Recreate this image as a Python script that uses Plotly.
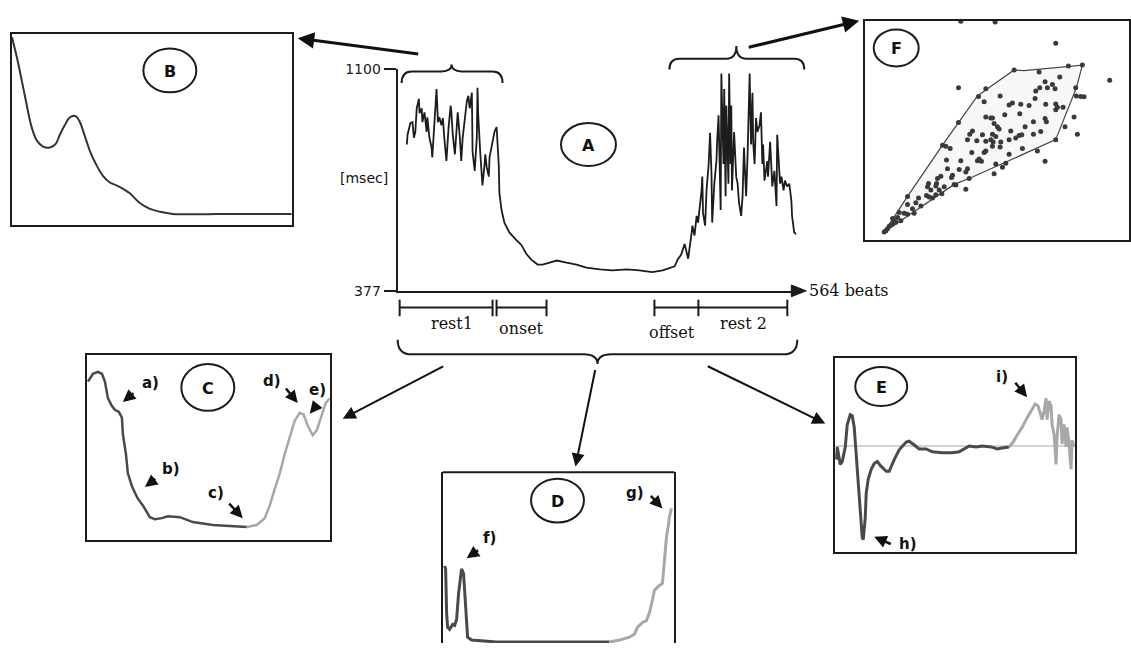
import plotly.graph_objects as go

W, H = 1131, 651

# ---------------- DATA ----------------
# Panel A: RR interval series (beat index, msec)
a_beats = [13, 14, 18, 21, 23, 25, 27, 30, 31, 34, 35, 38, 41, 42, 45, 48, 49, 52, 55, 57,
           59, 62, 64, 66, 69, 72, 75, 76, 78, 81, 83, 85, 88, 90, 92, 95, 98, 100, 102, 105,
           106, 109, 112, 113, 114, 117, 119, 120, 123, 124, 126, 129, 130, 133, 134, 137, 140, 141, 143, 144,
           147, 151, 158, 168, 175, 182, 189, 198, 205, 215, 225, 239, 253, 267, 286, 304, 324, 342, 360, 375,
           384, 392, 396, 401, 406, 408, 411, 416, 417, 420, 423, 425, 430, 431, 432, 435, 437, 440, 442, 444,
           445, 448, 451, 452, 454, 457, 458, 459, 461, 462, 464, 465, 468, 469, 471, 472, 473, 476, 479, 481,
           483, 486, 488, 490, 493, 495, 498, 500, 502, 503, 505, 507, 509, 512, 514, 516, 517, 519, 522, 523,
           524, 527, 529, 530, 533, 536, 537, 539, 541, 543, 546, 548, 551, 554, 557, 558, 561, 564]
a_msec = [855, 887, 925, 928, 877, 896, 973, 1004, 957, 973, 928, 960, 896, 944, 877, 845, 813, 928, 1036, 928,
          944, 918, 941, 877, 801, 909, 982, 960, 887, 823, 887, 960, 877, 801, 877, 950, 998, 1014, 973, 1024,
          832, 769, 877, 1040, 950, 823, 737, 721, 791, 823, 781, 750, 813, 855, 864, 896, 912, 877, 791, 695,
          641, 600, 568, 543, 527, 498, 479, 463, 463, 469, 476, 469, 463, 453, 447, 444, 447, 444, 438, 444,
          450, 457, 479, 495, 530, 514, 482, 568, 590, 558, 622, 600, 705, 750, 632, 590, 705, 791, 893, 759,
          600, 727, 801, 864, 950, 641, 1087, 982, 791, 1036, 686, 982, 727, 1087, 791, 982, 705, 896, 750, 727,
          664, 622, 686, 845, 686, 813, 1087, 855, 1024, 864, 791, 941, 896, 918, 960, 791, 855, 737, 791, 801,
          750, 864, 769, 718, 769, 654, 887, 813, 727, 750, 705, 737, 718, 727, 673, 622, 568, 562]
a_ticks = [377, 1100]
a_tick_labels = ["377", "1100"]

# Panel B: spectrum-like curve (arbitrary units 0-100)
b_x = [0, 2.1, 4.6, 7.1, 8.9, 11.1, 13.6, 15.7, 17.1, 18.9, 20.7, 22.9, 24.3, 26.1, 27.9, 30,
       32.5, 35, 37.5, 40, 42.1, 45.7, 49.3, 52.9, 57.5, 67.1, 78.9, 100]
b_y = [98.5, 85.6, 67.7, 50.8, 44.1, 41, 40.5, 42.6, 47.2, 52.3, 56.4, 56.9, 53.8, 46.2, 38.5, 31.8,
       25.6, 22.1, 20.5, 18.5, 16.4, 11.3, 8.2, 6.7, 5.6, 5.4, 5.6, 5.6]

# Panel F: Poincare scatter (arbitrary units)
f_x = [468, 365, 650, 812, 358, 618, 715, 380,
       525, 600, 688, 730, 662, 618, 640, 602, 625, 648, 590, 588, 440, 418, 435, 483, 710, 712, 725, 735,
       520, 510, 545, 570, 620, 650, 655, 650, 672, 497, 440, 460, 542, 583, 618, 622, 705, 678, 358, 400,
       392, 475, 480, 460, 470, 455, 430, 515, 548, 558, 540, 605, 583, 385, 413, 440, 462, 485, 510, 530,
       440, 435, 460, 483, 550, 595, 650, 310, 320, 333, 322, 398, 365, 420, 427, 415, 510, 470, 500, 490,
       465, 325, 360, 385, 380, 340, 337, 345, 390, 305, 295, 268, 292, 265, 290, 315, 275, 300, 308, 290,
       262, 270, 280, 230, 245, 205, 205, 220, 180, 195, 205, 175, 165, 170, 185, 160, 150, 145, 135, 140,
       155, 160, 238, 225, 350, 455, 465]
f_y = [673, 675, 607, 493, 470, 243, 327, 157,
       525, 519, 537, 540, 503, 489, 480, 470, 470, 467, 460, 437, 467, 443, 427, 445, 470, 445, 443, 442,
       423, 417, 419, 415, 419, 420, 410, 402, 410, 387, 380, 377, 390, 365, 375, 365, 380, 350, 363, 337,
       327, 350, 343, 327, 320, 310, 325, 337, 325, 350, 323, 335, 327, 310, 307, 305, 303, 303, 310, 315,
       275, 270, 290, 287, 283, 275, 310, 293, 290, 283, 247, 270, 245, 250, 243, 245, 265, 235, 237, 225,
       205, 220, 218, 220, 210, 200, 193, 172, 190, 197, 190, 175, 175, 165, 167, 165, 155, 155, 143, 140,
       138, 133, 130, 115, 105, 135, 110, 97, 85, 83, 80, 70, 60, 55, 60, 50, 43, 35, 25, 29,
       47, 67, 130, 83, 170, 377, 360]
hull_x = [135, 205, 310, 415, 445, 525, 555, 730, 712, 650, 390, 345, 135]
hull_y = [25, 135, 293, 445, 467, 525, 523, 540, 470, 310, 190, 172, 25]

# Panel C: rest1->onset (dark) and offset->rest2 (light)
c_dark_x = [1, 6, 11, 15, 18, 21, 25, 28, 32, 35, 36, 39, 41, 45, 48, 51, 56, 63, 68, 75, 81, 93, 106, 126, 143, 153, 160]
c_dark_y = [162, 170, 172, 170, 162, 145, 137, 133, 131, 125, 108, 88, 68, 55, 48, 42, 35, 23, 21, 22, 24, 23, 18, 15, 14, 13, 13]
c_light_x = [160, 170, 178, 183, 188, 193, 198, 203, 208, 213, 217, 221, 226, 230, 235, 239, 243]
c_light_y = [13, 15, 22, 35, 52, 68, 88, 105, 122, 130, 128, 117, 107, 112, 128, 140, 145]

# Panel D
d_dark_x = [2, 3, 4, 5, 7, 10, 12, 14, 16, 18, 19, 21, 22, 24, 25, 29, 40, 54, 87, 120, 167]
d_dark_y = [79, 76, 31, 16, 14, 19, 18, 24, 51, 71, 76, 71, 51, 18, 6, 3, 2, 1, 1, 1, 1]
d_light_x = [167, 177, 187, 192, 195, 200, 204, 207, 210, 212, 217, 220, 222, 223, 224, 226, 227, 229]
d_light_y = [1, 3, 6, 9, 16, 21, 23, 31, 44, 54, 59, 61, 84, 98, 108, 121, 129, 138]

# Panel E
e_ref = 109
e_dark_x = [1, 2, 5, 7, 10, 12, 15, 17, 19, 21, 23, 25, 27, 28, 30, 31, 33, 36, 39, 42, 46, 51, 54, 59,
            64, 71, 74, 79, 84, 91, 97, 107, 117, 124, 129, 134, 141, 147, 156, 162, 167, 174]
e_dark_y = [95, 108, 90, 93, 108, 131, 141, 140, 128, 98, 65, 35, 15, 13, 35, 61, 75, 85, 91, 93, 88, 83, 83, 95,
            105, 113, 114, 110, 106, 106, 103, 102, 102, 103, 106, 109, 108, 109, 108, 106, 107, 108]
e_light_x = [174, 178, 182, 187, 191, 196, 200, 203, 207, 209, 211, 212, 214, 216, 217, 219, 221, 222,
             224, 226, 227, 229, 231, 232, 234, 236, 237, 239]
e_light_y = [108, 113, 120, 128, 136, 145, 152, 150, 136, 145, 158, 136, 155, 150, 131, 121, 90, 118,
             141, 136, 111, 131, 108, 128, 111, 85, 115, 108]

# ---------------- HELPERS ----------------
def fx(p):
    return p / W

def fy(p):
    return 1 - p / H

INK = "#1c1c1c"
DARK = "#4a4a4a"
LIGHT = "#a8a8a8"

fig = go.Figure()

def box_axes(n, x0, x1, y0, y1, xr, yr, xline=True):
    ax = dict(domain=[fx(x0), fx(x1)], range=xr, showline=xline, mirror=True, linecolor=INK,
              linewidth=2, showticklabels=False, ticks="", showgrid=False, zeroline=False,
              anchor="y%d" % n)
    ay = dict(domain=[fy(y1), fy(y0)], range=yr, showline=True, mirror=True, linecolor=INK,
              linewidth=2, showticklabels=False, ticks="", showgrid=False, zeroline=False,
              anchor="x%d" % n)
    fig.update_layout(**{"xaxis%d" % n: ax, "yaxis%d" % n: ay})

# Panel A
fig.add_trace(go.Scatter(x=a_beats, y=a_msec, mode="lines", line=dict(color=INK, width=1.8),
                         xaxis="x", yaxis="y", showlegend=False, hoverinfo="skip"))
fig.update_layout(
    xaxis=dict(domain=[fx(398), fx(797)], range=[0, 564], showline=True, linecolor=INK, linewidth=2,
               showticklabels=False, ticks="", showgrid=False, zeroline=False, anchor="y"),
    yaxis=dict(domain=[fy(290), fy(63)], range=[377, 1100], showline=True, linecolor=INK, linewidth=2,
               tickvals=a_ticks, ticktext=a_tick_labels, ticks="outside", ticklen=12, tickwidth=2,
               tickcolor=INK, tickfont=dict(family="DejaVu Sans", size=14, color=INK),
               showgrid=False, zeroline=False, anchor="x"),
)

# Panel B
box_axes(2, 12, 292, 27, 222, [0, 100], [0, 100])
fig.add_trace(go.Scatter(x=b_x, y=b_y, mode="lines", line=dict(color="#333", width=2, shape="spline"),
                         xaxis="x2", yaxis="y2", showlegend=False, hoverinfo="skip"))

# Panel F
box_axes(3, 866, 1130, 13, 238, [78, 870], [0, 677])
fig.add_trace(go.Scatter(x=hull_x, y=hull_y, mode="lines", fill="toself", fillcolor="rgba(0,0,0,0.03)",
                         line=dict(color="#444", width=1.2), xaxis="x3", yaxis="y3",
                         showlegend=False, hoverinfo="skip"))
fig.add_trace(go.Scatter(x=f_x, y=f_y, mode="markers", marker=dict(color="#3a3a3a", size=5),
                         xaxis="x3", yaxis="y3", showlegend=False, hoverinfo="skip", cliponaxis=False))

# Panel C
box_axes(4, 87, 330, 356, 545, [0, 243], [0, 189])
fig.add_trace(go.Scatter(x=c_dark_x, y=c_dark_y, mode="lines", line=dict(color=DARK, width=2.5),
                         xaxis="x4", yaxis="y4", showlegend=False, hoverinfo="skip"))
fig.add_trace(go.Scatter(x=c_light_x, y=c_light_y, mode="lines", line=dict(color=LIGHT, width=2.5),
                         xaxis="x4", yaxis="y4", showlegend=False, hoverinfo="skip"))

# Panel D
box_axes(5, 443, 675, 476, 651, [0, 232], [0, 175], xline=False)
fig.add_trace(go.Scatter(x=d_dark_x, y=d_dark_y, mode="lines", line=dict(color=DARK, width=3),
                         xaxis="x5", yaxis="y5", showlegend=False, hoverinfo="skip"))
fig.add_trace(go.Scatter(x=d_light_x, y=d_light_y, mode="lines", line=dict(color=LIGHT, width=3),
                         xaxis="x5", yaxis="y5", showlegend=False, hoverinfo="skip"))

# Panel E
box_axes(6, 836, 1076, 359, 558, [0, 240], [0, 199])
fig.add_trace(go.Scatter(x=[0, 240], y=[e_ref, e_ref], mode="lines", line=dict(color="#c4c4c4", width=1.5),
                         xaxis="x6", yaxis="y6", showlegend=False, hoverinfo="skip"))
fig.add_trace(go.Scatter(x=e_dark_x, y=e_dark_y, mode="lines", line=dict(color=DARK, width=3),
                         xaxis="x6", yaxis="y6", showlegend=False, hoverinfo="skip"))
fig.add_trace(go.Scatter(x=e_light_x, y=e_light_y, mode="lines", line=dict(color=LIGHT, width=3),
                         xaxis="x6", yaxis="y6", showlegend=False, hoverinfo="skip"))

# ---------------- DECORATIONS ----------------
shapes = []

def pline(x0, y0, x1, y1, w=2, color=INK):
    shapes.append(dict(type="line", xref="paper", yref="paper", x0=fx(x0), y0=fy(y0), x1=fx(x1), y1=fy(y1),
                       line=dict(color=color, width=w)))

def ellipse(cx, cy, w, h):
    shapes.append(dict(type="circle", xref="paper", yref="paper", x0=fx(cx - w / 2), x1=fx(cx + w / 2),
                       y0=fy(cy + h / 2), y1=fy(cy - h / 2), line=dict(color=INK, width=2)))

def P(x, y):
    return "%.5f,%.5f" % (fx(x), fy(y))

def brace(xl, xr, yend, yline, xtip, ytip, r=10):
    d = ("M " + P(xl, yend) + " Q " + P(xl, yline) + " " + P(xl + r, yline) +
         " L " + P(xtip - r, yline) + " Q " + P(xtip, yline) + " " + P(xtip, ytip) +
         " Q " + P(xtip, yline) + " " + P(xtip + r, yline) +
         " L " + P(xr - r, yline) + " Q " + P(xr, yline) + " " + P(xr, yend))
    shapes.append(dict(type="path", xref="paper", yref="paper", path=d, line=dict(color=INK, width=2)))

# x-axis arrow head of panel A
shapes.append(dict(type="path", xref="paper", yref="paper",
                   path="M " + P(792, 284) + " L " + P(807, 290) + " L " + P(792, 296) + " Z",
                   fillcolor=INK, line=dict(color=INK, width=1)))

# segment bars under axis
pline(400, 307, 493, 307); pline(400, 299, 400, 316); pline(493, 299, 493, 316)
pline(497, 307, 547, 307); pline(497, 299, 497, 316); pline(547, 299, 547, 316)
pline(655, 307, 788, 307); pline(655, 299, 655, 316); pline(699, 299, 699, 316); pline(788, 299, 788, 316)

# braces
brace(402, 503, 77, 65, 452, 58)
brace(670, 805, 63, 52, 737, 39)
brace(398, 798, 340, 355, 598, 365, r=14)

# ellipses
ellipse(589, 140, 55, 44)
ellipse(170, 64, 53, 45)
ellipse(208, 389, 53, 48)
ellipse(558, 505, 53, 45)
ellipse(882, 388, 52, 40)
ellipse(897, 41, 45, 38)

# D top border
pline(443, 476, 675, 476, 2)

annotations = []

def arrow(tipx, tipy, tailx, taily, w=2.5, size=1.0):
    annotations.append(dict(x=fx(tipx), y=fy(tipy), xref="paper", yref="paper", ax=tailx - tipx,
                            ay=taily - tipy, axref="pixel", ayref="pixel", text="", showarrow=True,
                            arrowhead=2, arrowsize=size, arrowwidth=w, arrowcolor="#111"))

def label(x, y, txt, size=15, family="DejaVu Sans", bold=True, anchor="center"):
    t = "<b>%s</b>" % txt if bold else txt
    annotations.append(dict(x=fx(x), y=fy(y), xref="paper", yref="paper", text=t, showarrow=False,
                            xanchor=anchor, yanchor="middle",
                            font=dict(family=family, size=size, color="#111")))

# panel connecting arrows
arrow(298, 31, 420, 47, w=3, size=1.1)
arrow(860, 13, 748, 40, w=3, size=1.1)
arrow(343, 421, 445, 368, w=2, size=1.3)
arrow(576, 470, 596, 372, w=2, size=1.3)
arrow(826, 426, 707, 368, w=2, size=1.3)

# letter arrows
arrow(123, 404, 135, 394); label(151, 384, "a)")
arrow(145, 491, 157, 482); label(171, 473, "b)")
arrow(243, 523, 228, 507); label(216, 497, "c)")
arrow(298, 405, 285, 389); label(272, 382, "d)")
arrow(310, 416, 319, 405); label(318, 392, "e)")
arrow(467, 564, 480, 555); label(490, 543, "f)")
arrow(663, 513, 650, 499); label(636, 497, "g)")
arrow(875, 542, 893, 550); label(909, 549, "h)")
arrow(1028, 399, 1015, 383); label(1003, 378, "i)")

# panel letters
label(589, 141, "A", size=16)
label(170, 65, "B", size=16)
label(208, 390, "C", size=16)
label(558, 506, "D", size=16)
label(882, 389, "E", size=16)
label(897, 42, "F", size=16)

# axis texts
label(364, 174, "[msec]", size=14, bold=False)
label(808, 290, "564 beats", size=16, family="DejaVu Serif", bold=False, anchor="left")
label(452, 323, "rest1", size=16, family="DejaVu Serif", bold=False)
label(522, 329, "onset", size=16, family="DejaVu Serif", bold=False)
label(673, 333, "offset", size=16, family="DejaVu Serif", bold=False)
label(744, 323, "rest 2", size=16, family="DejaVu Serif", bold=False)

fig.update_layout(width=W, height=H, margin=dict(l=0, r=0, t=0, b=0), paper_bgcolor="white",
                  plot_bgcolor="rgba(0,0,0,0)", shapes=shapes, annotations=annotations, showlegend=False)

post = (
    "document.body.style.margin='0';"
    "document.body.style.padding='0';"
    "document.body.style.overflow='hidden';"
)

fig.write_html("out.html", config={"displayModeBar": False}, post_script=post)
